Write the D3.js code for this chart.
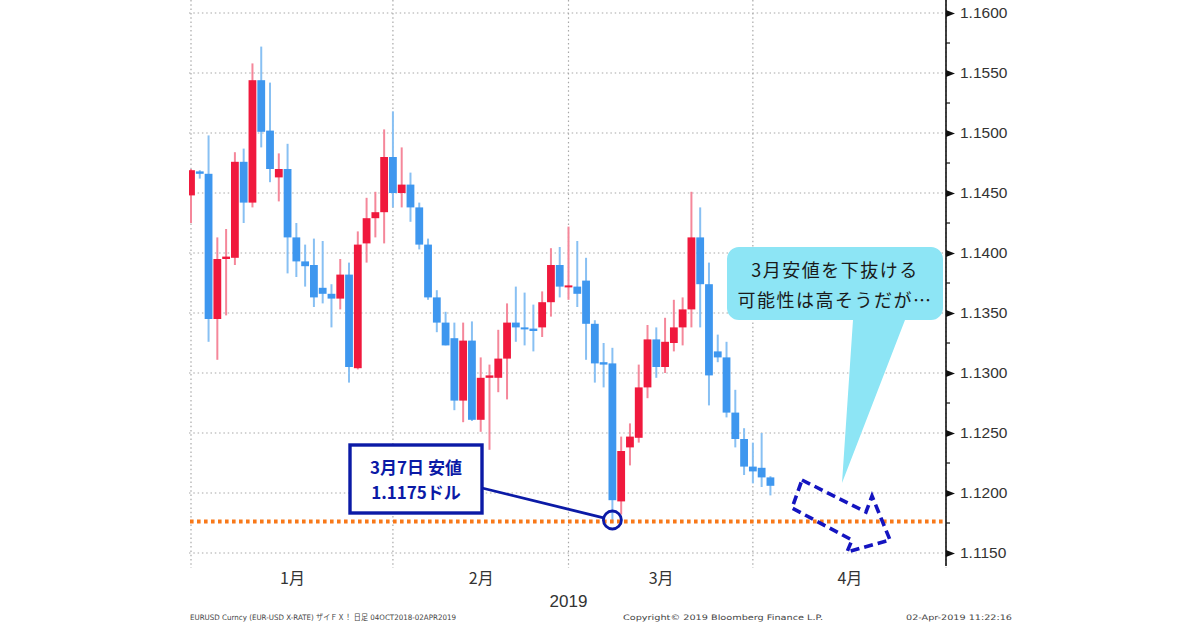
<!DOCTYPE html>
<html>
<head>
<meta charset="utf-8">
<script src="https://cdn.jsdelivr.net/npm/d3@7"></script>
<style>
  body { margin: 0; background: #fff; }
  svg { display: block; }
</style>
</head>
<body>
<script>
// daily EUR/USD candles, 31 Dec 2018 - 2 Apr 2019 (trading days only)
const opens = [
  1.1448, 1.1468, 1.1466, 1.1345, 1.1395, 1.1396, 1.1476, 1.1442, 1.1544, 1.1502,
  1.1463, 1.1470, 1.1413, 1.1393, 1.1390, 1.1371, 1.1366, 1.1362, 1.1382, 1.1304,
  1.1408, 1.1429, 1.1434, 1.1480, 1.1450, 1.1457, 1.1438, 1.1407, 1.1363, 1.1342,
  1.1329, 1.1277, 1.1327, 1.1261, 1.1296, 1.1296, 1.1312, 1.1342, 1.1338, 1.1337,
  1.1338, 1.1359, 1.1390, 1.1372, 1.1372, 1.1377, 1.1341, 1.1309, 1.1308, 1.1193,
  1.1238, 1.1246, 1.1288, 1.1328, 1.1305, 1.1325, 1.1338, 1.1353, 1.1413, 1.1374,
  1.1318, 1.1313, 1.1267, 1.1245, 1.1222, 1.1221, 1.1213
];
const highs = [
  1.1470, 1.1469, 1.1498, 1.1413, 1.1420, 1.1484, 1.1487, 1.1558, 1.1572, 1.1542,
  1.1483, 1.1491, 1.1425, 1.1407, 1.1412, 1.1410, 1.1374, 1.1395, 1.1392, 1.1418,
  1.1446, 1.1451, 1.1503, 1.1518, 1.1488, 1.1467, 1.1442, 1.1412, 1.1369, 1.1351,
  1.1342, 1.1342, 1.1343, 1.1313, 1.1307, 1.1336, 1.1358, 1.1372, 1.1367, 1.1357,
  1.1368, 1.1404, 1.1405, 1.1422, 1.1410, 1.1396, 1.1344, 1.1325, 1.1321, 1.1247,
  1.1258, 1.1307, 1.1340, 1.1338, 1.1346, 1.1361, 1.1363, 1.1451, 1.1438, 1.1392,
  1.1332, 1.1326, 1.1286, 1.1254, 1.1242, 1.1250, 1.1214
];
const lows = [
  1.1425, 1.1462, 1.1326, 1.1311, 1.1348, 1.1390, 1.1425, 1.1438, 1.1488, 1.1459,
  1.1443, 1.1383, 1.1380, 1.1372, 1.1355, 1.1358, 1.1338, 1.1353, 1.1292, 1.1303,
  1.1392, 1.1413, 1.1408, 1.1438, 1.1438, 1.1426, 1.1403, 1.1361, 1.1334, 1.1323,
  1.1269, 1.1259, 1.1260, 1.1251, 1.1236, 1.1284, 1.1278, 1.1326, 1.1323, 1.1318,
  1.1330, 1.1347, 1.1363, 1.1361, 1.1355, 1.1311, 1.1292, 1.1288, 1.1175, 1.1182,
  1.1223, 1.1242, 1.1279, 1.1296, 1.1300, 1.1318, 1.1323, 1.1338, 1.1338, 1.1273,
  1.1309, 1.1263, 1.1238, 1.1215, 1.1208, 1.1205, 1.1198
];
const closes = [
  1.1469, 1.1466, 1.1345, 1.1395, 1.1397, 1.1476, 1.1442, 1.1544, 1.1501, 1.1470,
  1.1470, 1.1413, 1.1393, 1.1389, 1.1363, 1.1366, 1.1362, 1.1382, 1.1305, 1.1407,
  1.1429, 1.1434, 1.1480, 1.1450, 1.1457, 1.1438, 1.1407, 1.1363, 1.1342, 1.1323,
  1.1277, 1.1327, 1.1261, 1.1296, 1.1298, 1.1312, 1.1342, 1.1338, 1.1337, 1.1335,
  1.1359, 1.1390, 1.1372, 1.1373, 1.1366, 1.1341, 1.1308, 1.1307, 1.1194, 1.1235,
  1.1247, 1.1288, 1.1328, 1.1305, 1.1326, 1.1338, 1.1353, 1.1413, 1.1374, 1.1298,
  1.1313, 1.1267, 1.1245, 1.1222, 1.1218, 1.1213, 1.1206
];

const yTicks = [1.1150, 1.1200, 1.1250, 1.1300, 1.1350, 1.1400, 1.1450, 1.1500, 1.1550, 1.1600];
const monthLabels = ["1月", "2月", "3月", "4月"];
const yearLabel = "2019";
const lowValue = 1.1175;
const lowIndex = 48; // 7 Mar 2019

const boxLines = ["3月7日 安値", "1.1175ドル"];
const bubbleLines = ["3月安値を下抜ける", "可能性は高そうだが…"];
const footer = [
  "EURUSD Curncy (EUR-USD X-RATE) ザイＦＸ！  日足 04OCT2018-02APR2019",
  "Copyright© 2019 Bloomberg Finance L.P.",
  "02-Apr-2019 11:22:16"
];

// trading calendar: weekdays from 31 Dec 2018 to 30 Apr 2019
const days = d3.timeDay.range(new Date(2018, 11, 31), new Date(2019, 4, 1))
  .filter(d => d.getDay() % 6 !== 0);

const candles = opens.map((o, i) => ({
  date: days[i], i: i, o: o, h: highs[i], l: lows[i], c: closes[i]
}));

// month boundaries sit on the last trading day of the previous month
const bounds = [];
days.forEach((d, i) => {
  const next = days[i + 1];
  if (!next || next.getMonth() !== d.getMonth()) bounds.push(i);
});

const W = 1200, H = 630;
const plotLeft = 189, plotRight = 946, plotBottom = 568;

const svg = d3.select("body").append("svg")
  .attr("width", W).attr("height", H);

const x = d3.scaleLinear().domain([0, days.length - 1]).range([191, 946]);
const y = d3.scaleLinear().domain([1.1150, 1.1600]).range([553, 13]);

svg.append("defs").append("clipPath").attr("id", "plot")
  .append("rect").attr("x", plotLeft).attr("y", 0)
  .attr("width", plotRight - plotLeft).attr("height", plotBottom);

// grid
const grid = svg.append("g")
  .attr("stroke", "#a8a8a8").attr("stroke-width", 1.2)
  .attr("stroke-dasharray", "1.5,2.8");
grid.selectAll(".hg").data(yTicks).enter().append("line")
  .attr("x1", plotLeft).attr("x2", plotRight)
  .attr("y1", d => y(d)).attr("y2", d => y(d));
grid.selectAll(".vg").data(bounds).enter().append("line")
  .attr("x1", d => x(d)).attr("x2", d => x(d))
  .attr("y1", 0).attr("y2", plotBottom);

// candles
const bodyW = 7.8;
const cg = svg.append("g").attr("clip-path", "url(#plot)");
const up = d => d.c >= d.o;
cg.selectAll(".wick").data(candles).enter().append("line")
  .attr("x1", d => x(d.i)).attr("x2", d => x(d.i))
  .attr("y1", d => y(d.h)).attr("y2", d => y(d.l))
  .attr("stroke", d => up(d) ? "#f5879a" : "#88c0f3")
  .attr("stroke-width", 2);
cg.selectAll(".body").data(candles).enter().append("rect")
  .attr("x", d => x(d.i) - bodyW / 2)
  .attr("width", bodyW)
  .attr("y", d => y(Math.max(d.o, d.c)))
  .attr("height", d => Math.max(2, Math.abs(y(d.o) - y(d.c))))
  .attr("fill", d => up(d) ? "#f0193d" : "#3e97ef");

// y axis
svg.append("line")
  .attr("x1", plotRight).attr("x2", plotRight)
  .attr("y1", 0).attr("y2", 566)
  .attr("stroke", "#111").attr("stroke-width", 1.6);

const minor = d3.range(yTicks.length - 1).map(i => (yTicks[i] + yTicks[i + 1]) / 2);
svg.append("g").selectAll("line").data(minor).enter().append("line")
  .attr("x1", plotRight).attr("x2", plotRight + 4)
  .attr("y1", d => y(d)).attr("y2", d => y(d))
  .attr("stroke", "#111").attr("stroke-width", 1.2);

const yAxis = d3.axisRight(y).tickValues(yTicks).tickSize(0).tickPadding(14)
  .tickFormat(d3.format(".4f"));
const yg = svg.append("g").attr("transform", `translate(${plotRight},0)`).call(yAxis);
yg.select(".domain").remove();
yg.selectAll(".tick text")
  .attr("fill", "#333").style("font-family", "'Liberation Sans', Arial, sans-serif")
  .style("font-size", "15.5px");
yg.selectAll(".tick").append("path")
  .attr("d", "M0,-3.5L9,0L0,3.5Z").attr("fill", "#111");

// x axis: month labels between boundaries
const mids = monthLabels.map((m, i) => (bounds[i] + bounds[i + 1]) / 2);
const xAxis = d3.axisBottom(x).tickValues(mids).tickSize(0).tickPadding(0)
  .tickFormat((d, i) => monthLabels[i]);
const xg = svg.append("g").attr("transform", "translate(0,570)").call(xAxis);
xg.select(".domain").remove();
xg.selectAll(".tick text")
  .attr("fill", "#333").attr("dy", "0.9em")
  .style("font-family", "'Noto Sans CJK JP', sans-serif").style("font-size", "16px");

svg.append("text")
  .attr("x", x((bounds[0] + bounds[bounds.length - 1]) / 2)).attr("y", 607)
  .attr("text-anchor", "middle").attr("fill", "#333")
  .style("font-family", "'Liberation Sans', Arial, sans-serif").style("font-size", "17px")
  .text(yearLabel);

// footer
const footPos = [[190, 266], [623, 200], [906, 106]];
svg.append("g").selectAll("text").data(footer).enter().append("text")
  .attr("x", (d, i) => footPos[i][0]).attr("y", 620)
  .attr("textLength", (d, i) => footPos[i][1]).attr("lengthAdjust", "spacingAndGlyphs")
  .attr("fill", "#444")
  .style("font-family", "'DejaVu Sans', 'Noto Sans CJK JP', sans-serif").style("font-size", "7.5px")
  .text(d => d);

// March low line
svg.append("line")
  .attr("x1", plotLeft + 1).attr("x2", plotRight - 1)
  .attr("y1", y(lowValue) - 1.5).attr("y2", y(lowValue) - 1.5)
  .attr("stroke", "#f8791a").attr("stroke-width", 4)
  .attr("stroke-dasharray", "3.6,3.4");

// low annotation
const navy = "#0b1aa6";
const cx = x(lowIndex), cy = y(lows[lowIndex]) - 3, r = 9;
const bx = 350, by = 445, bw = 132, bh = 68;
const lx = bx + bw, ly = 488;
const len = Math.hypot(cx - lx, cy - ly);
svg.append("line")
  .attr("x1", lx).attr("y1", ly)
  .attr("x2", cx - (cx - lx) / len * r).attr("y2", cy - (cy - ly) / len * r)
  .attr("stroke", navy).attr("stroke-width", 2.8);
svg.append("circle").attr("cx", cx).attr("cy", cy).attr("r", r)
  .attr("fill", "none").attr("stroke", navy).attr("stroke-width", 2.8);
svg.append("rect").attr("x", bx).attr("y", by).attr("width", bw).attr("height", bh)
  .attr("fill", "#fff").attr("stroke", navy).attr("stroke-width", 3.4);
svg.append("g").selectAll("text").data(boxLines).enter().append("text")
  .attr("x", bx + bw / 2).attr("y", (d, i) => by + 29 + i * 25)
  .attr("text-anchor", "middle").attr("fill", navy)
  .style("font-family", "'Noto Sans CJK JP', sans-serif").style("font-size", "17px")
  .style("font-weight", "bold")
  .text(d => d);

// speech bubble
const bl = 727, bt = 247, br = 943, bb = 320, rr = 12;
const tail = [[853, bb], [842, 483], [905, bb]];
const bubble = d3.path();
bubble.moveTo(bl + rr, bt);
bubble.lineTo(br - rr, bt);
bubble.arcTo(br, bt, br, bt + rr, rr);
bubble.lineTo(br, bb - rr);
bubble.arcTo(br, bb, br - rr, bb, rr);
bubble.lineTo(tail[2][0], bb);
bubble.lineTo(tail[1][0], tail[1][1]);
bubble.lineTo(tail[0][0], bb);
bubble.lineTo(bl + rr, bb);
bubble.arcTo(bl, bb, bl, bb - rr, rr);
bubble.lineTo(bl, bt + rr);
bubble.arcTo(bl, bt, bl + rr, bt, rr);
bubble.closePath();
svg.append("path").attr("d", bubble.toString()).attr("fill", "#8de5f5");
svg.append("g").selectAll("text").data(bubbleLines).enter().append("text")
  .attr("x", 835).attr("y", (d, i) => 277 + i * 30)
  .attr("text-anchor", "middle").attr("fill", "#1a1a1a")
  .style("font-family", "'Noto Sans CJK JP', sans-serif").style("font-size", "18px")
  .style("letter-spacing", "1.5px")
  .text(d => d);

// dashed arrow
const arrow = [[802, 480], [866, 512], [872, 496], [890, 540], [847, 552], [852, 540], [792, 508]];
svg.append("path")
  .attr("d", d3.line()(arrow) + "Z")
  .attr("fill", "none").attr("stroke", "#1414c0").attr("stroke-width", 3.6)
  .attr("stroke-dasharray", "9,5").attr("stroke-linejoin", "miter");
</script>
</body>
</html>
